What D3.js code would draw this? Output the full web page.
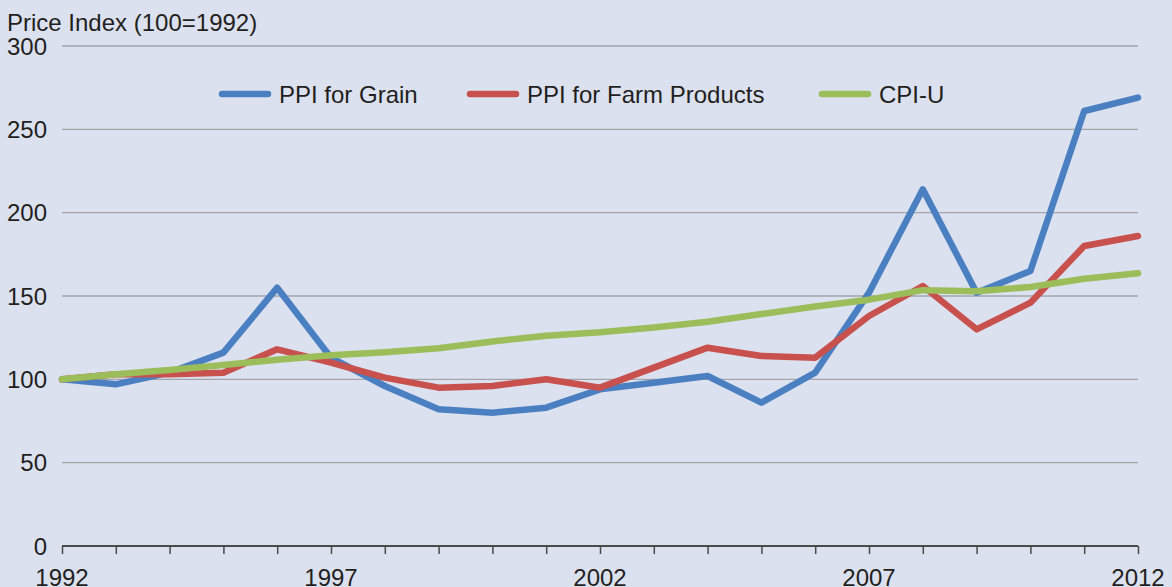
<!DOCTYPE html>
<html>
<head>
<meta charset="utf-8">
<script src="https://cdn.jsdelivr.net/npm/d3@7"></script>
<style>
  html, body { margin: 0; padding: 0; background: #dce1ef; }
  svg { display: block; font-family: "Liberation Sans", Arial, sans-serif; }
</style>
</head>
<body>
<svg id="chart" width="1172" height="587"></svg>
<script>
const years = d3.range(1992, 2013);
const grain = [100, 97, 104, 116, 155, 113, 96, 82, 80, 83, 94, 98, 102, 86, 104, 152, 214, 152, 165, 261, 269];
const farm  = [100, 103, 103, 104, 118, 110, 101, 95, 96, 100, 95, 107, 119, 114, 113, 138, 156, 130, 146, 180, 186];
const cpi   = [100, 103, 105.6, 108.6, 111.8, 114.4, 116.2, 118.7, 122.7, 126.2, 128.2, 131.1, 134.6, 139.2, 143.7, 147.8, 153.5, 152.9, 155.4, 160.3, 163.6];
const yTicks = [0, 50, 100, 150, 200, 250, 300];
const xLabelYears = [1992, 1997, 2002, 2007, 2012];
const seriesNames = ["PPI for Grain", "PPI for Farm Products", "CPI-U"];
const seriesColors = ["#4a80c2", "#c8504d", "#9bbd5a"];

const svg = d3.select("#chart");
const W = 1172, H = 587;
svg.append("rect").attr("width", W).attr("height", H).attr("fill", "#dce1ef");

const x = d3.scaleLinear().domain([1992, 2012]).range([62, 1138]);
const y = d3.scaleLinear().domain([0, 300]).range([546, 46]);

// gridlines
svg.append("g").selectAll("line").data(yTicks.filter(d => d > 0)).join("line")
  .attr("x1", x(1992)).attr("x2", x(2012))
  .attr("y1", d => y(d)).attr("y2", d => y(d))
  .attr("stroke", "#a3a5ab").attr("stroke-width", 1.3);

// y tick labels
svg.append("g").selectAll("text").data(yTicks).join("text")
  .attr("x", 47).attr("y", d => y(d)).attr("dy", "0.36em")
  .attr("text-anchor", "end").attr("font-size", 24).attr("fill", "#231f20")
  .text(d => d);

// y title
svg.append("text").attr("x", 7).attr("y", 31).attr("font-size", 24).attr("fill", "#231f20")
  .text("Price Index (100=1992)");

// x axis
const xAxis = d3.axisBottom(x).tickValues(years).tickSize(8).tickFormat("");
const gx = svg.append("g").attr("transform", `translate(0,${y(0)})`).call(xAxis);
gx.select(".domain").attr("stroke", "#4a4a4a").attr("stroke-width", 2).attr("d", `M${x(1992)},0H${x(2012)}`);
gx.selectAll(".tick line").attr("stroke", "#4a4a4a").attr("stroke-width", 1.5);

svg.append("g").selectAll("text").data(xLabelYears).join("text")
  .attr("x", d => x(d)).attr("y", 586).attr("text-anchor", "middle")
  .attr("font-size", 24).attr("fill", "#231f20").text(d => d);

// lines
const line = d3.line().x((d, i) => x(years[i])).y(d => y(d));
[grain, farm, cpi].forEach((s, k) => {
  svg.append("path").datum(s).attr("d", line)
    .attr("fill", "none").attr("stroke", seriesColors[k])
    .attr("stroke-width", 6.5).attr("stroke-linejoin", "round").attr("stroke-linecap", "round");
});

// legend
const legendX = [222, 470, 822];
const lg = svg.append("g");
seriesNames.forEach((n, k) => {
  lg.append("line").attr("x1", legendX[k]).attr("x2", legendX[k] + 46)
    .attr("y1", 94).attr("y2", 94)
    .attr("stroke", seriesColors[k]).attr("stroke-width", 6.5).attr("stroke-linecap", "round");
  lg.append("text").attr("x", legendX[k] + 57).attr("y", 94).attr("dy", "0.36em")
    .attr("font-size", 24).attr("fill", "#231f20").text(n);
});
</script>
</body>
</html>
